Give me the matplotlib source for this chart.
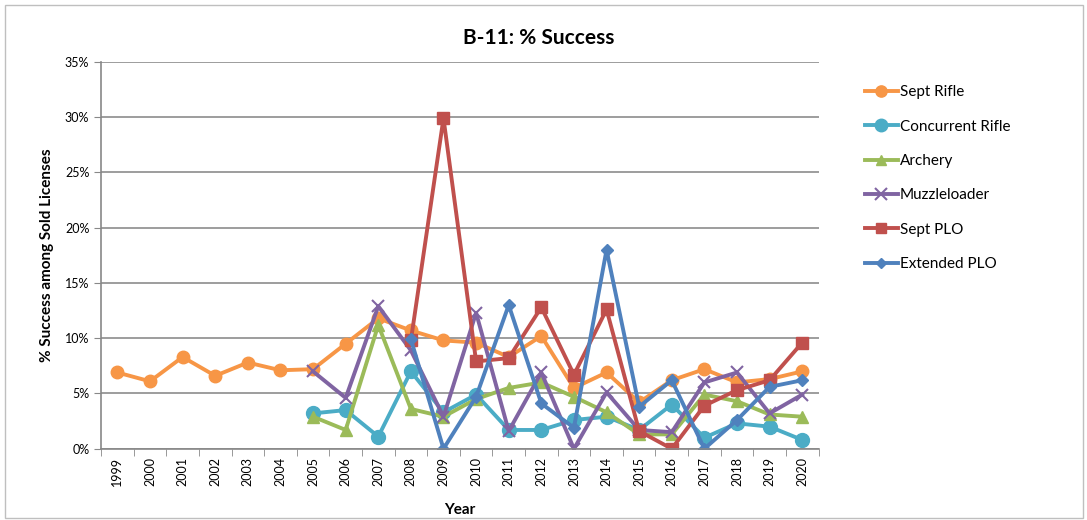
import matplotlib.pyplot as plt
from matplotlib.patches import Rectangle
from matplotlib.ticker import FuncFormatter
import numpy as np

plt.rcParams['font.family'] = ['Lato', 'DejaVu Sans']

years = list(range(1999, 2021))
nan = np.nan

# % success by year, nan = no data
sept_rifle = [6.9, 6.1, 8.3, 6.6, 7.8, 7.1, 7.2, 9.5, 11.8, 10.7, 9.8, 9.6,
              8.3, 10.2, 5.5, 6.9, 4.2, 6.2, 7.2, 6.0, 6.3, 7.0]
concurrent_rifle = [nan] * 6 + [3.2, 3.5, 1.1, 7.0, 3.3, 4.9, 1.7, 1.7, 2.6,
                                2.9, 1.7, 4.0, 1.0, 2.3, 2.0, 0.8]
archery = [nan] * 6 + [2.9, 1.7, 11.2, 3.6, 2.9, 4.5, 5.5, 6.0, 4.7, 3.3,
                       1.3, 1.3, 4.9, 4.3, 3.1, 2.9]
muzzleloader = [nan] * 6 + [7.0, 4.6, 12.9, 8.9, 2.9, 12.3, 1.6, 6.9, 0.0,
                            5.1, 1.7, 1.5, 6.0, 6.9, 3.2, 4.9]
sept_plo = [nan] * 9 + [9.8, 29.9, 7.9, 8.2, 12.8, 6.7, 12.6, 1.6, 0.0,
                        3.9, 5.3, 6.2, 9.6]
extended_plo = [nan] * 9 + [9.9, 0.0, 4.7, 13.0, 4.1, 1.9, 18.0, 3.8, 6.2,
                            0.0, 2.6, 5.6, 6.2]

series = [
    ("Sept Rifle", sept_rifle, "#F79646", "o", 9),
    ("Concurrent Rifle", concurrent_rifle, "#4BACC6", "o", 10),
    ("Archery", archery, "#9BBB59", "^", 8),
    ("Muzzleloader", muzzleloader, "#8064A2", "x", 9),
    ("Sept PLO", sept_plo, "#C0504D", "s", 8),
    ("Extended PLO", extended_plo, "#4F81BD", "D", 6),
]

fig = plt.figure(figsize=(10.87, 5.20), dpi=100)
ax = fig.add_axes([0.093, 0.137, 0.66, 0.744])

x = np.arange(len(years))
for name, vals, color, marker, ms in series:
    y = np.array(vals, dtype=float) / 100
    mew = 1.5 if marker == "x" else 1
    ax.plot(x, y, color=color, lw=2.8, marker=marker, ms=ms, mew=mew,
            mfc=color, mec=color, label=name)

ax.set_ylim(0, 0.35)
ax.set_yticks(np.arange(0, 0.351, 0.05))
ax.yaxis.set_major_formatter(FuncFormatter(lambda v, p: f"{round(v * 100)}%"))
ax.set_xlim(-0.5, len(years) - 0.5)
ax.set_xticks(x)
ax.set_xticklabels([str(yr) for yr in years], rotation=90)
ax.set_xticks(np.arange(-0.5, len(years)), minor=True)
ax.tick_params(axis='x', which='major', length=0, labelsize=9, pad=6)
ax.tick_params(axis='x', which='minor', length=5, color='#888888')
ax.tick_params(axis='y', length=5, color='#888888', labelsize=9)

ax.grid(axis='y', color='#8c8c8c', lw=1.2)
ax.set_axisbelow(True)
for s in ['top', 'right']:
    ax.spines[s].set_visible(False)
for s in ['left', 'bottom']:
    ax.spines[s].set_color('#888888')
    ax.spines[s].set_linewidth(1.2)

ax.set_title("B-11: % Success", fontsize=15, fontweight='bold', pad=13,
             x=0.61)
ax.set_xlabel("Year", fontsize=11, fontweight='bold', labelpad=12)
ax.set_ylabel("% Success among Sold Licenses", fontsize=11,
              fontweight='bold', labelpad=8)

ax.legend(loc='upper left', bbox_to_anchor=(1.045, 0.975), frameon=False,
          fontsize=11, handlelength=2.2, handletextpad=0.1,
          labelspacing=1.33, markerscale=0.9)

fig.patches.append(Rectangle((0.005, 0.004), 0.991, 0.987,
                             transform=fig.transFigure, fill=False,
                             edgecolor='#bfbfbf', lw=1))

fig.savefig("out.png", dpi=100)
